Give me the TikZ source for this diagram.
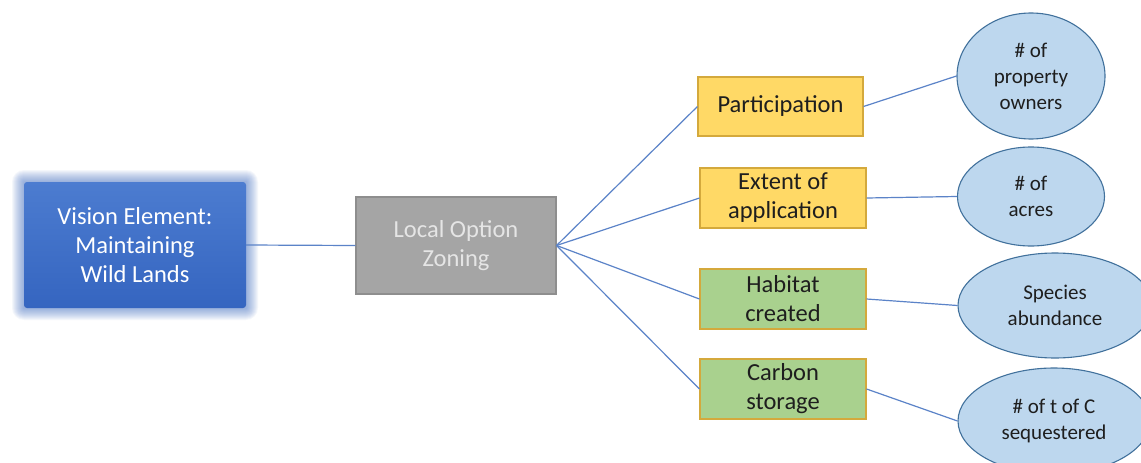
\documentclass[tikz,border=0pt]{standalone}
\usepackage{fontspec}
\setmainfont{Carlito}
\usepackage{xcolor}
\usetikzlibrary{shapes.geometric}

\definecolor{visiontop}{HTML}{4C7CD0}
\definecolor{visionbot}{HTML}{3565C0}
\definecolor{greyfill}{HTML}{A5A5A5}
\definecolor{greyline}{HTML}{8E8E8E}
\definecolor{goldfill}{HTML}{FFD966}
\definecolor{goldline}{HTML}{D4A93C}
\definecolor{greenfill}{HTML}{A9D18E}
\definecolor{ellfill}{HTML}{BDD7EE}
\definecolor{ellline}{HTML}{41719C}
\definecolor{linkblue}{HTML}{5B83C8}
\definecolor{textdark}{HTML}{1E1E1E}

\begin{document}
\begin{tikzpicture}[x=1pt, y=-1pt,
		box/.style={draw=goldline, line width=1.1pt, minimum width=166pt, minimum height=60pt, inner sep=0pt, align=center, font=\fontsize{24.5}{29}\selectfont, text=textdark},
		metric/.style={ellipse, draw=ellline, line width=1.1pt, fill=ellfill, inner sep=0pt, align=center, font=\fontsize{21}{26}\selectfont, text=textdark},
		link/.style={draw=linkblue, line width=1.2pt}]
		\useasboundingbox (0, 0) rectangle (1141, 463);
		\clip (0, 0) rectangle (1141, 463);
		\fill[white] (0, 0) rectangle (1141, 463);

		\foreach \g in {1, ..., 12}
			\fill[visionbot, opacity=0.05, rounded corners=\g pt] (24 - \g, 182 - \g) rectangle (246 + \g, 308 + \g);
		\node[top color=visiontop, bottom color=visionbot, rounded corners=3pt, minimum width=222pt, minimum height=126pt, inner sep=0pt, align=center, text=white, font=\fontsize{24.5}{29}\selectfont] (vision) at (135, 245) {Vision Element:\\Maintaining\\Wild Lands};
		\node[draw=greyline, line width=1.1pt, fill=greyfill, minimum width=200pt, minimum height=97pt, inner sep=0pt, align=center, text=white!90!black, font=\fontsize{24.5}{29}\selectfont] (zoning) at (456, 245.5) {Local Option\\Zoning};

		\node[box, fill=goldfill, minimum width=165pt, minimum height=59pt] (part) at (780.5, 106.5) {Participation};
		\node[box, fill=goldfill] (extent) at (783, 198) {Extent of\\application};
		\node[box, fill=greenfill] (habitat) at (783, 299) {Habitat\\created};
		\node[box, fill=greenfill] (carbon) at (783, 389) {Carbon\\storage};

		\node[metric, minimum width=148pt, minimum height=126pt] (owners) at (1031, 76) {\# of\\property\\owners};
		\node[metric, minimum width=147pt, minimum height=99pt] (acres) at (1031, 196.5) {\# of\\acres};
		\node[metric, minimum width=194pt, minimum height=105pt] (species) at (1055, 305.5) {Species\\abundance};
		\node[metric, minimum width=192pt, minimum height=106pt] (tonnes) at (1054, 421) {\# of t of C\\sequestered};

		\draw[link] (vision.east) -- (zoning.west);
		\draw[link] (zoning.east) -- (part.west);
		\draw[link] (zoning.east) -- (extent.west);
		\draw[link] (zoning.east) -- (habitat.west);
		\draw[link] (zoning.east) -- (carbon.west);
		\draw[link] (part.east) -- (owners.west);
		\draw[link] (extent.east) -- (acres.west);
		\draw[link] (habitat.east) -- (species.west);
		\draw[link] (carbon.east) -- (tonnes.west);
	\end{tikzpicture}
\end{document}
